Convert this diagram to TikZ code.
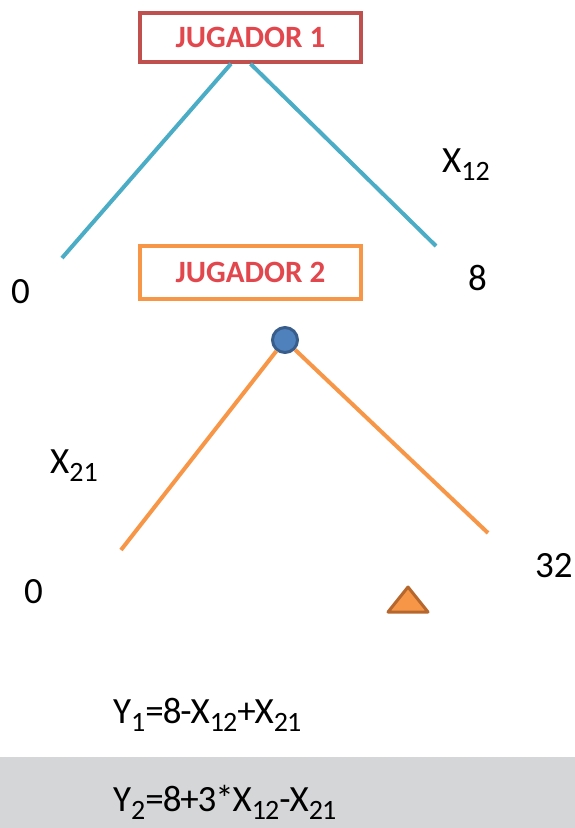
\documentclass[tikz,border=0pt]{standalone}
\usepackage{fontspec}
\setmainfont{Carlito}
\newfontfamily\eqfont[LetterSpace=-3]{Carlito}
\usepackage{xcolor}
\usetikzlibrary{positioning}
\definecolor{boxRed}{HTML}{C0504D}
\definecolor{textRed}{HTML}{E2474D}
\definecolor{branchBlue}{HTML}{4BACC6}
\definecolor{branchOrange}{HTML}{F79646}
\definecolor{triEdge}{HTML}{B5672E}
\definecolor{nodeBlue}{HTML}{4F81BD}
\definecolor{nodeEdge}{HTML}{385D8A}
\definecolor{bandGray}{HTML}{D5D6D8}
\newcommand{\lowsub}[1]{\raisebox{-8.5pt}{\fontsize{28}{28}\selectfont #1}}
\tikzset{
  player/.style  = {rectangle, line width=3.5pt, fill=white,
                    minimum width=221pt, inner sep=0pt,
                    font=\fontsize{31}{31}\selectfont\bfseries, text=textRed},
  branchA/.style = {line width=4pt, draw=branchBlue},
  branchB/.style = {line width=4pt, draw=branchOrange},
  lbl/.style     = {anchor=base west, inner sep=0pt,
                    font=\fontsize{37}{37}\selectfont},
  decnode/.style = {circle, fill=nodeBlue, draw=nodeEdge, line width=3pt,
                    minimum size=25pt, inner sep=0pt}
}
\begin{document}
\begin{tikzpicture}[x=1pt, y=-1pt]
\useasboundingbox (0,0) rectangle (575,828);
\fill[bandGray] (0,757) rectangle (575,828);

% player boxes
\node[player, draw=boxRed, minimum height=49pt] (j1) at (250.5,37.5) {JUGADOR 1};
\node[player, draw=branchOrange, minimum height=53pt] (j2) at (250.5,272.5) {JUGADOR 2};

% first stage
\coordinate (a0) at (62,258);
\coordinate (a8) at (436,246);
\draw[branchA] ([xshift=-19.5pt]j1.south) -- (a0);
\draw[branchA] (j1.south) -- (a8);
\node[lbl] (v0) at (11,303) {0};
\node[lbl] (v8) at (468,290) {8};
\node[lbl] (x12) at (442,172) {X\lowsub{12}};

% second stage
\node[decnode] (n2) at (285,340) {};
\coordinate (b0) at (121,550);
\coordinate (b32) at (488,533);
\draw[branchB] (n2.232) -- (b0);
\draw[branchB] (n2.-44) -- (b32);
\node[lbl] (x21) at (50,473) {X\lowsub{21}};
\node[lbl] (w0) at (24,603) {0};
\node[lbl] (w32) at (535,577) {32};
\draw[fill=branchOrange, draw=triEdge, line width=3pt, line join=round]
  (388,612) -- (408,587) -- (428,612) -- cycle;

% payoffs
\node[lbl, font=\fontsize{37}{37}\eqfont] (y1) at (113,723)
  {Y\lowsub{1}=8-X\lowsub{12}+X\lowsub{21}};
\node[lbl, font=\fontsize{37}{37}\eqfont] (y2) at (113,811)
  {Y\lowsub{2}=8+3*X\lowsub{12}-X\lowsub{21}};
\end{tikzpicture}
\end{document}
